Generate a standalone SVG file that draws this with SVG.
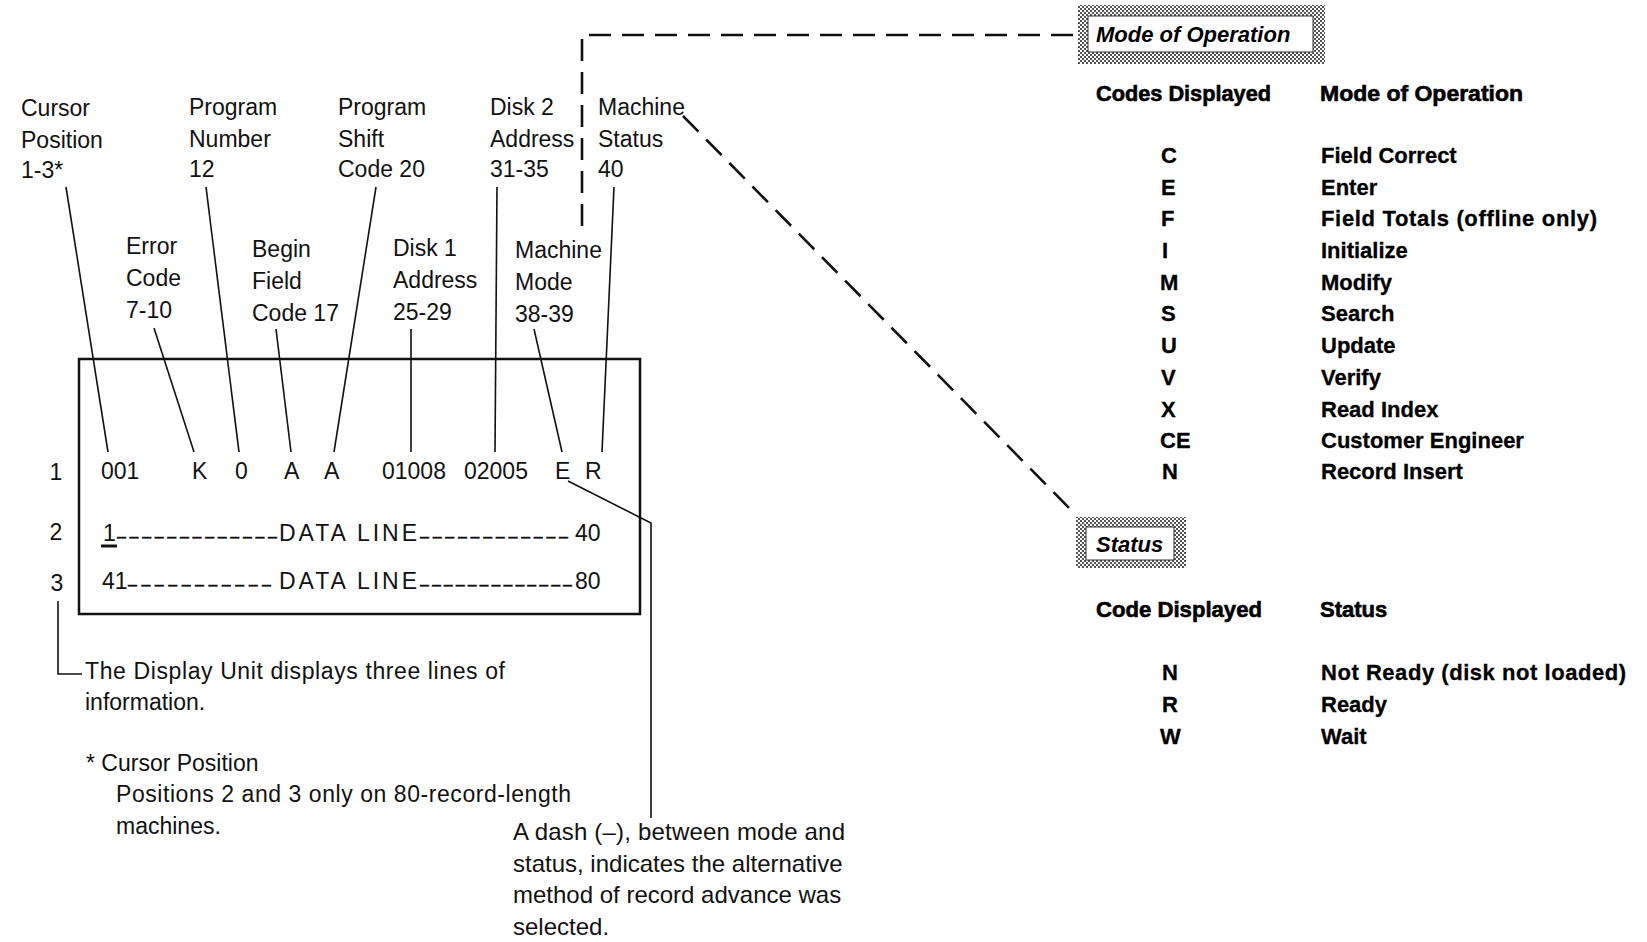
<svg xmlns="http://www.w3.org/2000/svg" width="1647" height="942" viewBox="0 0 1647 942">
<style>
  .lbl { font-family: "Liberation Sans", Arial, sans-serif; font-size: 23px; fill: #111; }
  .scr { font-family: "Liberation Sans", Arial, sans-serif; font-size: 23px; fill: #111; }
  .dash { font-family: "Liberation Sans", Arial, sans-serif; font-size: 16px; fill: #111; stroke: #111; stroke-width: 0.5; }
  .note { font-family: "Liberation Sans", Arial, sans-serif; font-size: 24px; fill: #111; }
  .hdr { font-family: "Liberation Sans", Arial, sans-serif; font-size: 22px; font-weight: bold; fill: #000; stroke: #000; stroke-width: 0.6; }
  .row { font-family: "Liberation Sans", Arial, sans-serif; font-size: 22px; font-weight: bold; fill: #000; stroke: #000; stroke-width: 0.3; }
  .ttl { font-family: "Liberation Sans", Arial, sans-serif; font-size: 22px; font-weight: bold; font-style: italic; fill: #000; }
  .lead { stroke: #111; stroke-width: 1.6; fill: none; }
  .dashed { stroke: #111; stroke-width: 2.6; fill: none; stroke-dasharray: 22 11; }
</style>
<defs>
  <pattern id="dither" width="4" height="4" patternUnits="userSpaceOnUse">
    <rect width="4" height="4" fill="#fff"/>
    <rect width="2" height="2" fill="#555"/>
    <rect x="2" y="2" width="2" height="2" fill="#555"/>
  </pattern>
</defs>
<rect width="1647" height="942" fill="#fff"/>

<g id="connectors">
  <line class="lead" x1="66" y1="187" x2="108" y2="452"/>
  <line class="lead" x1="154" y1="328" x2="194" y2="452"/>
  <line class="lead" x1="206" y1="187" x2="239" y2="452"/>
  <line class="lead" x1="276" y1="329" x2="291" y2="452"/>
  <line class="lead" x1="376" y1="187" x2="334" y2="452"/>
  <line class="lead" x1="411" y1="329" x2="411" y2="452"/>
  <line class="lead" x1="497" y1="187" x2="495" y2="452"/>
  <line class="lead" x1="534" y1="329" x2="562" y2="452"/>
  <line class="lead" x1="614" y1="187" x2="602" y2="452"/>
  <polyline class="lead" points="568,481 651,523 651,818" stroke-width="2"/>
  <polyline class="lead" points="58,601 58,674 82,674"/>
  <polyline class="dashed" points="582,226 582,35 1078,35"/>
  <line class="dashed" x1="683" y1="116" x2="1076" y2="515"/>
</g>

<g id="cursor-position"><text class="lbl" x="21"><tspan x="21" y="116">Cursor</tspan><tspan x="21" y="148">Position</tspan><tspan x="21" y="178">1-3*</tspan></text></g>
<g id="program-number"><text class="lbl"><tspan x="189" y="115">Program</tspan><tspan x="189" y="147">Number</tspan><tspan x="189" y="177">12</tspan></text></g>
<g id="program-shift"><text class="lbl"><tspan x="338" y="115">Program</tspan><tspan x="338" y="147">Shift</tspan><tspan x="338" y="177">Code 20</tspan></text></g>
<g id="disk2-address"><text class="lbl"><tspan x="490" y="115">Disk 2</tspan><tspan x="490" y="147">Address</tspan><tspan x="490" y="177">31-35</tspan></text></g>
<g id="machine-status"><text class="lbl"><tspan x="598" y="115">Machine</tspan><tspan x="598" y="147">Status</tspan><tspan x="598" y="177">40</tspan></text></g>
<g id="error-code"><text class="lbl"><tspan x="126" y="254">Error</tspan><tspan x="126" y="286">Code</tspan><tspan x="126" y="318">7-10</tspan></text></g>
<g id="begin-field"><text class="lbl"><tspan x="252" y="257">Begin</tspan><tspan x="252" y="289">Field</tspan><tspan x="252" y="321">Code 17</tspan></text></g>
<g id="disk1-address"><text class="lbl"><tspan x="393" y="256">Disk 1</tspan><tspan x="393" y="288">Address</tspan><tspan x="393" y="320">25-29</tspan></text></g>
<g id="machine-mode"><text class="lbl"><tspan x="515" y="258">Machine</tspan><tspan x="515" y="290">Mode</tspan><tspan x="515" y="322">38-39</tspan></text></g>

<g id="display-unit">
  <rect x="79" y="359" width="561" height="255" fill="none" stroke="#111" stroke-width="2.5"/>
  <text class="scr" x="56" y="480" text-anchor="middle">1</text>
  <text class="scr" x="56" y="540" text-anchor="middle">2</text>
  <text class="scr" x="57" y="591" text-anchor="middle">3</text>
  <text class="scr" x="101" y="479">001</text>
  <text class="scr" x="192" y="479">K</text>
  <text class="scr" x="235" y="479">0</text>
  <text class="scr" x="284" y="479">A</text>
  <text class="scr" x="324" y="479">A</text>
  <text class="scr" x="382" y="479">01008</text>
  <text class="scr" x="464" y="479">02005</text>
  <text class="scr" x="555" y="479">E</text>
  <text class="scr" x="585" y="479">R</text>
  <text class="scr" x="103" y="541">1</text>
  <line x1="101" y1="546" x2="117" y2="546" stroke="#111" stroke-width="3"/>
  <text class="dash" x="117" y="542" textLength="160" lengthAdjust="spacing">–––––––––––––</text>
  <text class="scr" x="279" y="541" textLength="138" lengthAdjust="spacing">DATA LINE</text>
  <text class="dash" x="420" y="542" textLength="148" lengthAdjust="spacing">––––––––––––</text>
  <text class="scr" x="575" y="541">40</text>
  <text class="scr" x="102" y="589">41</text>
  <text class="dash" x="128" y="590" textLength="143" lengthAdjust="spacing">–––––––––––</text>
  <text class="scr" x="279" y="589" textLength="138" lengthAdjust="spacing">DATA LINE</text>
  <text class="dash" x="420" y="590" textLength="152" lengthAdjust="spacing">–––––––––––––</text>
  <text class="scr" x="575" y="589">80</text>
</g>

<g id="note-lines">
  <text class="lbl"><tspan x="85" y="679" textLength="420" lengthAdjust="spacing">The Display Unit displays three lines of</tspan><tspan x="85" y="710">information.</tspan></text>
</g>
<g id="note-cursor">
  <text class="lbl"><tspan x="86" y="771">* Cursor Position</tspan><tspan x="116" y="802" textLength="455" lengthAdjust="spacing">Positions 2 and 3 only on 80-record-length</tspan><tspan x="116" y="834">machines.</tspan></text>
</g>
<g id="note-dash">
  <text class="note"><tspan x="513" y="840" textLength="332" lengthAdjust="spacing">A dash (–), between mode and</tspan><tspan x="513" y="872">status, indicates the alternative</tspan><tspan x="513" y="903">method of record advance was</tspan><tspan x="513" y="935">selected.</tspan></text>
</g>

<g id="mode-box">
  <rect x="1078" y="5" width="247" height="59" fill="url(#dither)"/>
  <rect x="1088" y="16" width="225" height="36" fill="#fff" stroke="#333" stroke-width="1"/>
  <text class="ttl" x="1096" y="42">Mode of Operation</text>
</g>
<g id="mode-table">
  <text class="hdr" x="1096" y="101" textLength="175" lengthAdjust="spacingAndGlyphs">Codes Displayed</text>
  <text class="hdr" x="1320" y="101" textLength="203" lengthAdjust="spacingAndGlyphs">Mode of Operation</text>
  <text class="row" x="1161" y="163">C</text><text class="row" x="1321" y="163">Field Correct</text>
  <text class="row" x="1161" y="195">E</text><text class="row" x="1321" y="195">Enter</text>
  <text class="row" x="1161" y="226">F</text><text class="row" x="1321" y="226" textLength="276" lengthAdjust="spacing">Field Totals (offline only)</text>
  <text class="row" x="1162" y="258">I</text><text class="row" x="1321" y="258">Initialize</text>
  <text class="row" x="1160" y="290">M</text><text class="row" x="1321" y="290">Modify</text>
  <text class="row" x="1161" y="321">S</text><text class="row" x="1321" y="321">Search</text>
  <text class="row" x="1161" y="353">U</text><text class="row" x="1321" y="353">Update</text>
  <text class="row" x="1161" y="385">V</text><text class="row" x="1321" y="385">Verify</text>
  <text class="row" x="1161" y="417">X</text><text class="row" x="1321" y="417">Read Index</text>
  <text class="row" x="1160" y="448">CE</text><text class="row" x="1321" y="448">Customer Engineer</text>
  <text class="row" x="1162" y="479">N</text><text class="row" x="1321" y="479">Record Insert</text>
</g>

<g id="status-box">
  <rect x="1076" y="517" width="110" height="51" fill="url(#dither)"/>
  <rect x="1086" y="527" width="88" height="33" fill="#fff" stroke="#333" stroke-width="1"/>
  <text class="ttl" x="1096" y="552">Status</text>
</g>
<g id="status-table">
  <text class="hdr" x="1096" y="617" textLength="166" lengthAdjust="spacingAndGlyphs">Code Displayed</text>
  <text class="hdr" x="1320" y="617">Status</text>
  <text class="row" x="1162" y="680">N</text><text class="row" x="1321" y="680" textLength="305" lengthAdjust="spacing">Not Ready (disk not loaded)</text>
  <text class="row" x="1162" y="712">R</text><text class="row" x="1321" y="712">Ready</text>
  <text class="row" x="1160" y="744">W</text><text class="row" x="1321" y="744">Wait</text>
</g>
</svg>
